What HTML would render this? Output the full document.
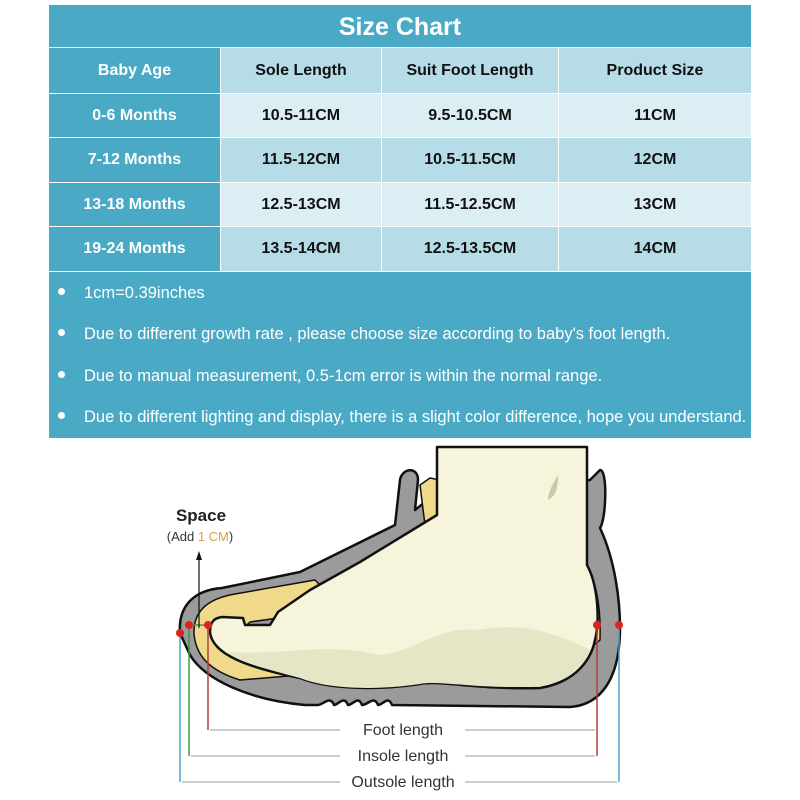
<!DOCTYPE html>
<html><head><meta charset="utf-8"><style>
body{margin:0;width:800px;height:800px;background:#fff;position:relative;overflow:hidden;font-family:"Liberation Sans",sans-serif}
.blk{position:absolute;left:49px;top:5px;width:702px;height:433px;background:#4aaac6}
.title{position:absolute;left:49px;top:5px;width:702px;height:42px;line-height:44px;text-align:center;color:#fff;font-weight:bold;font-size:25px}
.c{position:absolute;display:flex;align-items:center;justify-content:center;font-weight:bold;font-size:16px;color:#111}
.d{color:#fff}
.notes{position:absolute;left:58px;color:#fff;font-size:16.5px;white-space:nowrap}
.notes span{display:inline-block;width:7px;height:7px;border-radius:50%;background:#fff;margin-right:19px;vertical-align:3px}
</style></head><body>
<div class="blk"></div>
<div class="title">Size Chart</div>
<div class="c d" style="left:49px;top:48px;width:171px;height:45px">Baby Age</div>
<div class="c" style="left:221px;top:48px;width:160px;height:45px;background:#b6dce7">Sole Length</div>
<div class="c" style="left:382px;top:48px;width:176px;height:45px;background:#b6dce7">Suit Foot Length</div>
<div class="c" style="left:559px;top:48px;width:192px;height:45px;background:#b6dce7">Product Size</div>
<div style="position:absolute;left:49px;top:47px;width:702px;height:1px;background:#e8f4f7"></div>
<div class="c d" style="left:49px;top:94px;width:171px;height:43px">0-6 Months</div>
<div class="c" style="left:221px;top:94px;width:160px;height:43px;background:#dbeef3">10.5-11CM</div>
<div class="c" style="left:382px;top:94px;width:176px;height:43px;background:#dbeef3">9.5-10.5CM</div>
<div class="c" style="left:559px;top:94px;width:192px;height:43px;background:#dbeef3">11CM</div>
<div class="c d" style="left:49px;top:138px;width:171px;height:44px">7-12 Months</div>
<div class="c" style="left:221px;top:138px;width:160px;height:44px;background:#b6dce7">11.5-12CM</div>
<div class="c" style="left:382px;top:138px;width:176px;height:44px;background:#b6dce7">10.5-11.5CM</div>
<div class="c" style="left:559px;top:138px;width:192px;height:44px;background:#b6dce7">12CM</div>
<div class="c d" style="left:49px;top:183px;width:171px;height:43px">13-18 Months</div>
<div class="c" style="left:221px;top:183px;width:160px;height:43px;background:#dbeef3">12.5-13CM</div>
<div class="c" style="left:382px;top:183px;width:176px;height:43px;background:#dbeef3">11.5-12.5CM</div>
<div class="c" style="left:559px;top:183px;width:192px;height:43px;background:#dbeef3">13CM</div>
<div class="c d" style="left:49px;top:227px;width:171px;height:44px">19-24 Months</div>
<div class="c" style="left:221px;top:227px;width:160px;height:44px;background:#b6dce7">13.5-14CM</div>
<div class="c" style="left:382px;top:227px;width:176px;height:44px;background:#b6dce7">12.5-13.5CM</div>
<div class="c" style="left:559px;top:227px;width:192px;height:44px;background:#b6dce7">14CM</div>
<div style="position:absolute;left:49px;top:93px;width:702px;height:1px;background:#fff"></div>
<div style="position:absolute;left:49px;top:137px;width:702px;height:1px;background:#fff"></div>
<div style="position:absolute;left:49px;top:182px;width:702px;height:1px;background:#fff"></div>
<div style="position:absolute;left:49px;top:226px;width:702px;height:1px;background:#fff"></div>
<div style="position:absolute;left:49px;top:271px;width:702px;height:1px;background:#fff"></div>
<div style="position:absolute;left:220px;top:48px;width:1px;height:223px;background:#fff"></div>
<div style="position:absolute;left:381px;top:48px;width:1px;height:223px;background:#fff"></div>
<div style="position:absolute;left:558px;top:48px;width:1px;height:223px;background:#fff"></div>
<div class="notes" style="top:284px"><span></span>1cm=0.39inches</div>
<div class="notes" style="top:325px"><span></span>Due to different growth rate , please choose size according to baby's foot length.</div>
<div class="notes" style="top:367px"><span></span>Due to manual measurement, 0.5-1cm error is within the normal range.</div>
<div class="notes" style="top:408px"><span></span>Due to different lighting and display, there is a slight color difference, hope you understand.</div>
<svg style="position:absolute;left:0;top:0" width="800" height="800">
<g stroke="#111" stroke-width="2.5" stroke-linejoin="round">
<path fill="#9b9b9b" d="M180,633 C178,605 195,590 222,588 L300,572 L395,525 L400,480 C402,468 418,466 418,480 L415,510 L440,490 L590,480 L600,470 C608,470 606,520 600,528 C615,560 620,600 620,628 C620,680 600,705 570,707 L392,705 C388,695 383,705 378,705 C374,695 368,705 362,705 C358,695 353,705 348,705 C344,695 338,705 334,705 C330,695 323,705 318,705 L305,705 C250,700 205,680 190,655 Z"/>
<path fill="#f0d98a" stroke-width="1.5" d="M194,634 C193,608 212,598 235,594 L315,580 L325,590 L300,615 L250,622 L225,645 C238,665 280,672 300,675 L240,680 C208,670 196,655 194,634 Z"/>
<path fill="#f0d98a" stroke-width="1.5" d="M420,485 L430,478 L440,480 L440,515 L425,525 Z"/>
<path fill="#f0d98a" stroke-width="1.5" d="M585,565 C596,580 601,605 600,640 L594,645 L588,600 Z"/>
<path fill="#f6f4da" d="M437,447 L587,447 L587,565 C598,585 600,620 595,640 C590,665 570,683 540,688 C480,690 440,680 420,684 C380,690 330,690 300,678 C250,668 212,655 210,632 C210,622 214,618 222,617 L243,618 L245,625 L270,625 L278,612 L310,590 L360,562 L437,515 Z"/>
</g>
<path fill="#e6e5c6" d="M225,652 C300,655 320,642 380,655 C420,650 440,625 480,630 C530,620 570,640 590,650 C580,675 560,683 540,686 C480,690 440,680 420,684 C380,690 330,690 300,678 C260,668 240,660 225,652 Z"/>
<path d="M558,475 C550,488 548,495 548,500 C555,496 558,490 558,475" fill="#c9c9a8"/>
<line x1="180" y1="633" x2="180" y2="782" stroke="#4aa3cc" stroke-width="1.5"/>
<line x1="619" y1="625" x2="619" y2="782" stroke="#4aa3cc" stroke-width="1.5"/>
<line x1="189" y1="625" x2="189" y2="756" stroke="#3a9a4a" stroke-width="1.5"/>
<line x1="208" y1="625" x2="208" y2="730" stroke="#b04040" stroke-width="1.5"/>
<line x1="597" y1="625" x2="597" y2="756" stroke="#b04040" stroke-width="1.5"/>
<line x1="189" y1="625" x2="208" y2="625" stroke="#3a9a4a" stroke-width="1.5"/>
<line x1="199" y1="628" x2="199" y2="555" stroke="#111" stroke-width="1.2"/>
<path d="M196,560 L199,551 L202,560 Z" fill="#111"/>
<g fill="#d22">
<circle cx="180" cy="633" r="4"/><circle cx="189" cy="625" r="4"/><circle cx="208" cy="625" r="4"/>
<circle cx="597" cy="625" r="4"/><circle cx="619" cy="625" r="4"/></g>
<g stroke="#bbb" stroke-width="1.5">
<line x1="210" y1="730" x2="340" y2="730"/><line x1="465" y1="730" x2="595" y2="730"/>
<line x1="191" y1="756" x2="340" y2="756"/><line x1="465" y1="756" x2="595" y2="756"/>
<line x1="182" y1="782" x2="340" y2="782"/><line x1="465" y1="782" x2="617" y2="782"/>
</g>
<g font-family="Liberation Sans,sans-serif" font-size="16" fill="#333" text-anchor="middle">
<text x="403" y="735">Foot length</text>
<text x="403" y="761">Insole length</text>
<text x="403" y="787">Outsole length</text>
</g>
<text x="201" y="521" font-family="Liberation Sans,sans-serif" font-size="17" font-weight="bold" fill="#222" text-anchor="middle">Space</text>
<text x="200" y="541" font-family="Liberation Sans,sans-serif" font-size="13" fill="#333" text-anchor="middle">(Add <tspan fill="#d9a050">1 CM</tspan>)</text>
</svg>
</body></html>
